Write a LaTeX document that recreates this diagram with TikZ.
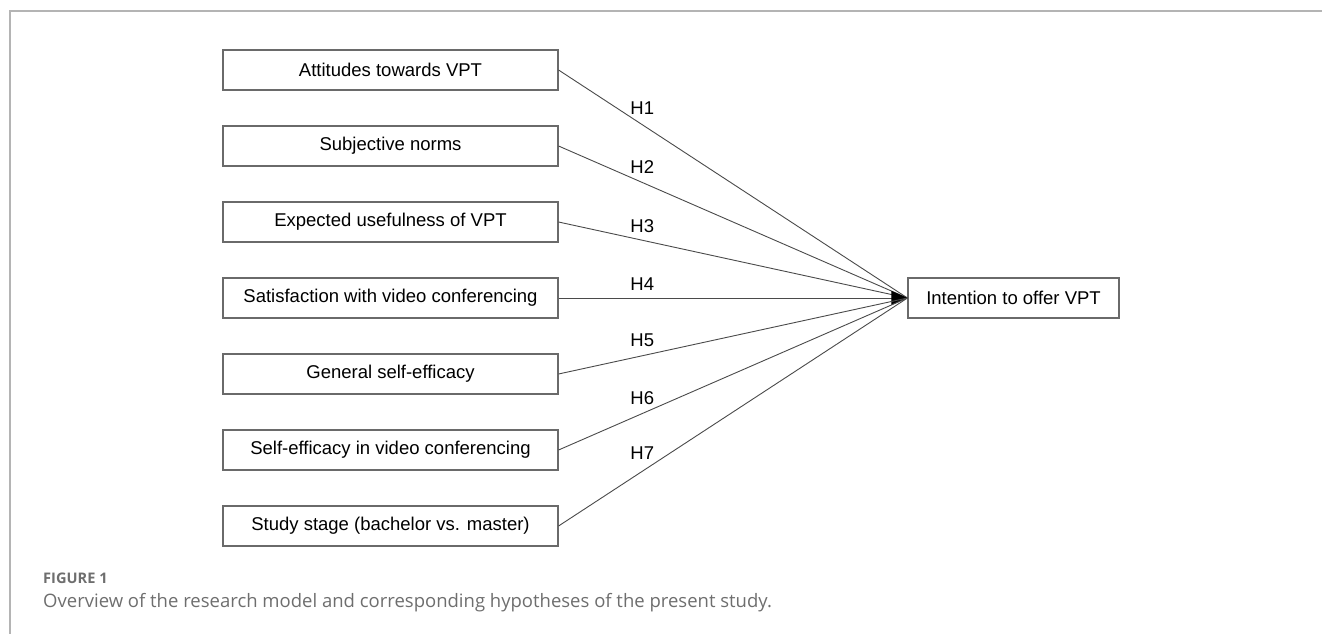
\documentclass[tikz,border=0pt]{standalone}
\usepackage{fontspec}
\setmainfont{Liberation Sans}
\newfontfamily\capfont{Open Sans}
\usetikzlibrary{arrows.meta}
\definecolor{framegray}{HTML}{B4B4B4}
\definecolor{boxgray}{HTML}{6A6A6A}
\definecolor{linegray}{HTML}{4A4A4A}
\definecolor{capgray}{HTML}{6E6E6E}

\tikzset{
  factor/.style={draw=boxgray, line width=1.1pt, minimum width=335pt, minimum height=40pt,
    inner sep=0pt, font=\fontsize{18.5}{22}\selectfont},
  hyp/.style={pos=.24, anchor=south, yshift=#1, inner sep=0pt, font=\fontsize{18.5}{22}\selectfont},
  hyp/.default=8.5pt,
  path/.style={draw=linegray, line width=0.9pt}
}

\begin{document}
\begin{tikzpicture}[x=1pt, y=-1pt]
      \useasboundingbox (0,0) rectangle (1322,634);
      \draw[framegray, line width=2pt] (10,634) -- (10,11) -- (1322,11);

      \node[factor] (att) at (390.5, 70) {Attitudes towards VPT};
      \node[factor] (subj) at (390.5, 146) {Subjective norms};
      \node[factor] (useful) at (390.5, 222) {Expected usefulness of VPT};
      \node[factor] (satis) at (390.5, 298) {Satisfaction with video conferencing};
      \node[factor] (geneff) at (390.5, 374) {General self-efficacy};
      \node[factor] (vceff) at (390.5, 450) {Self-efficacy in video conferencing};
      \node[factor] (stage) at (390.5, 526) {Study stage (bachelor vs. master)};
      \node[factor, minimum width=211pt] (intent) at (1013.5, 298) {Intention to offer VPT};

      \draw[path] (att.east) to node[hyp=9.5pt]{H1} (intent.west);
      \draw[path] (subj.east) to node[hyp]{H2} (intent.west);
      \draw[path] (useful.east) to node[hyp=7pt]{H3} (intent.west);
      \draw[path, -{Triangle[length=16pt, width=14pt, black]}] (satis.east) to node[hyp=7.5pt]{H4} (intent.west);
      \draw[path] (geneff.east) to node[hyp]{H5} (intent.west);
      \draw[path] (vceff.east) to node[hyp]{H6} (intent.west);
      \draw[path] (stage.east) to node[hyp=11pt]{H7} (intent.west);

      \node[anchor=west, inner sep=0pt, text=capgray, font=\capfont\bfseries\fontsize{14.6}{16}\selectfont] (fig) at (43, 578) {FIGURE 1};
      \node[anchor=west, inner sep=0pt, text=capgray, font=\capfont\fontsize{18.5}{21}\selectfont] (caption) at (43, 603) {Overview of the research model and corresponding hypotheses of the present study.};
    \end{tikzpicture}
\end{document}
